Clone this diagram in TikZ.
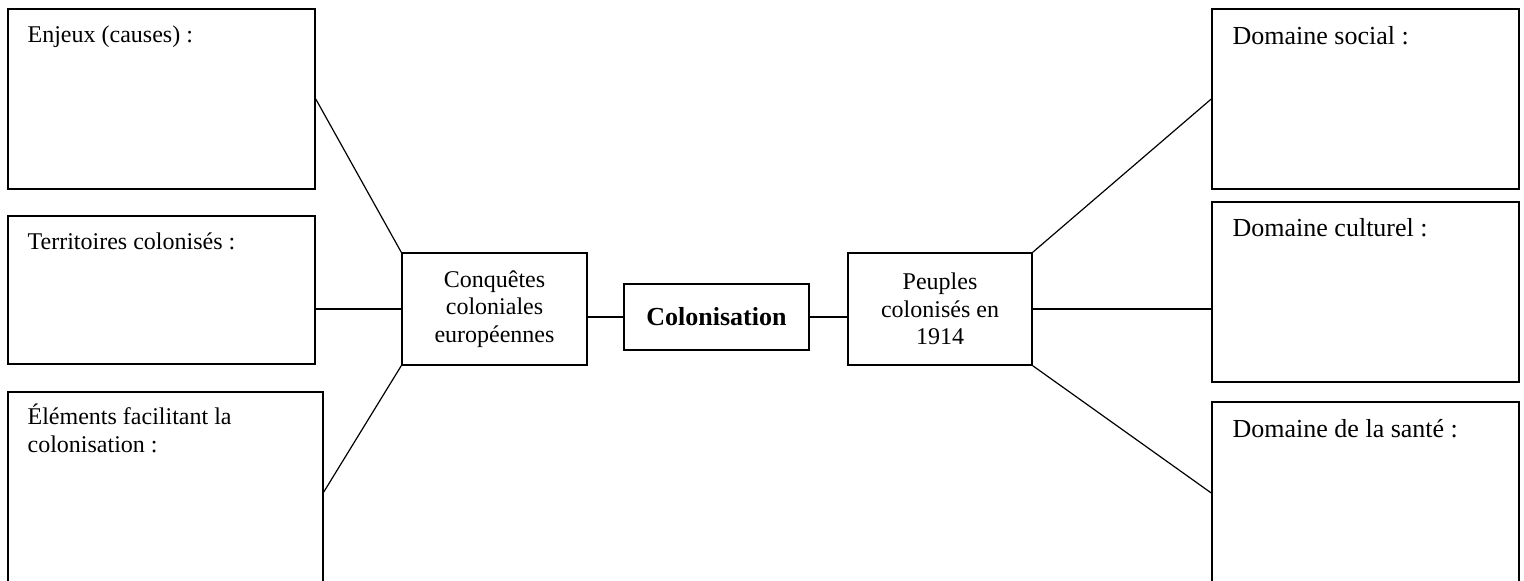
\documentclass[tikz,border=0pt]{standalone}
\usepackage{fontspec}
\setmainfont{Liberation Serif}
\tikzset{
    field/.style={draw,line width=0.75pt,inner sep=0pt},
    fieldtext/.style={anchor=base west,inner sep=0pt,align=left,font=\fontsize{12}{14}\selectfont},
    fieldtextr/.style={fieldtext,font=\fontsize{13}{15}\selectfont},
    hub/.style={draw,line width=0.75pt,minimum width=92.5pt,minimum height=56pt,
        align=center,inner sep=2pt,font=\fontsize{12}{13.75}\selectfont},
    link/.style={line width=0.6pt},
}
\begin{document}
\begin{tikzpicture}[x=0.5pt,y=-0.5pt]
    \path[use as bounding box,clip] (0,0) rectangle (1524,581);
    % left side
    \node[field,minimum width=153.5pt,minimum height=90pt] (enjeux) at (161.5,99) {};
    \node[field,minimum width=153.5pt,minimum height=74pt] (territoires) at (161.5,290) {};
    \node[field,minimum width=157.5pt,minimum height=100pt] (elements) at (165.5,492) {};
    \node[fieldtext] (enjeuxtxt) at ([xshift=10pt,yshift=-17pt]enjeux.north west) {Enjeux (causes) :};
    \node[fieldtext] (territoirestxt) at ([xshift=10pt,yshift=-17pt]territoires.north west) {Territoires colonisés :};
    \node[fieldtext] (elementstxt) at ([xshift=10pt,yshift=-30.5pt]elements.north west) {Éléments facilitant la\\colonisation :};
    % centre
    \node[hub] (conquetes) at (494.5,309) {Conquêtes\\coloniales\\européennes};
    \node[hub,minimum height=33pt,font=\fontsize{13}{15}\selectfont\bfseries] (colonisation) at (716.5,317) {Colonisation};
    \node[hub,minimum width=92pt] (peuples) at (940,309) {Peuples\\colonisés en\\1914};
    % right side
    \node[field,minimum width=153.5pt,minimum height=90pt] (social) at (1365.5,99) {};
    \node[field,minimum width=153.5pt,minimum height=90pt] (culturel) at (1365.5,292) {};
    \node[field,minimum width=153.5pt,minimum height=91pt] (sante) at (1365.5,493) {};
    \node[fieldtextr] (socialtxt) at ([xshift=10.5pt,yshift=-18pt]social.north west) {Domaine social :};
    \node[fieldtextr] (culturelTxt) at ([xshift=10.5pt,yshift=-17.5pt]culturel.north west) {Domaine culturel :};
    \node[fieldtextr] (santetxt) at ([xshift=10.5pt,yshift=-18pt]sante.north west) {Domaine de la santé :};
    % connectors
    \draw[link] (enjeux.east) -- (conquetes.north west);
    \draw[link] (conquetes.west) -- (conquetes.west -| territoires.east);
    \draw[link] (elements.east) -- (conquetes.south west);
    \draw[link] (colonisation.west) -- (colonisation.west -| conquetes.east);
    \draw[link] (colonisation.east) -- (colonisation.east -| peuples.west);
    \draw[link] (peuples.north east) -- (social.west);
    \draw[link] (peuples.east) -- (peuples.east -| culturel.west);
    \draw[link] (peuples.south east) -- (sante.west);
\end{tikzpicture}
\end{document}
